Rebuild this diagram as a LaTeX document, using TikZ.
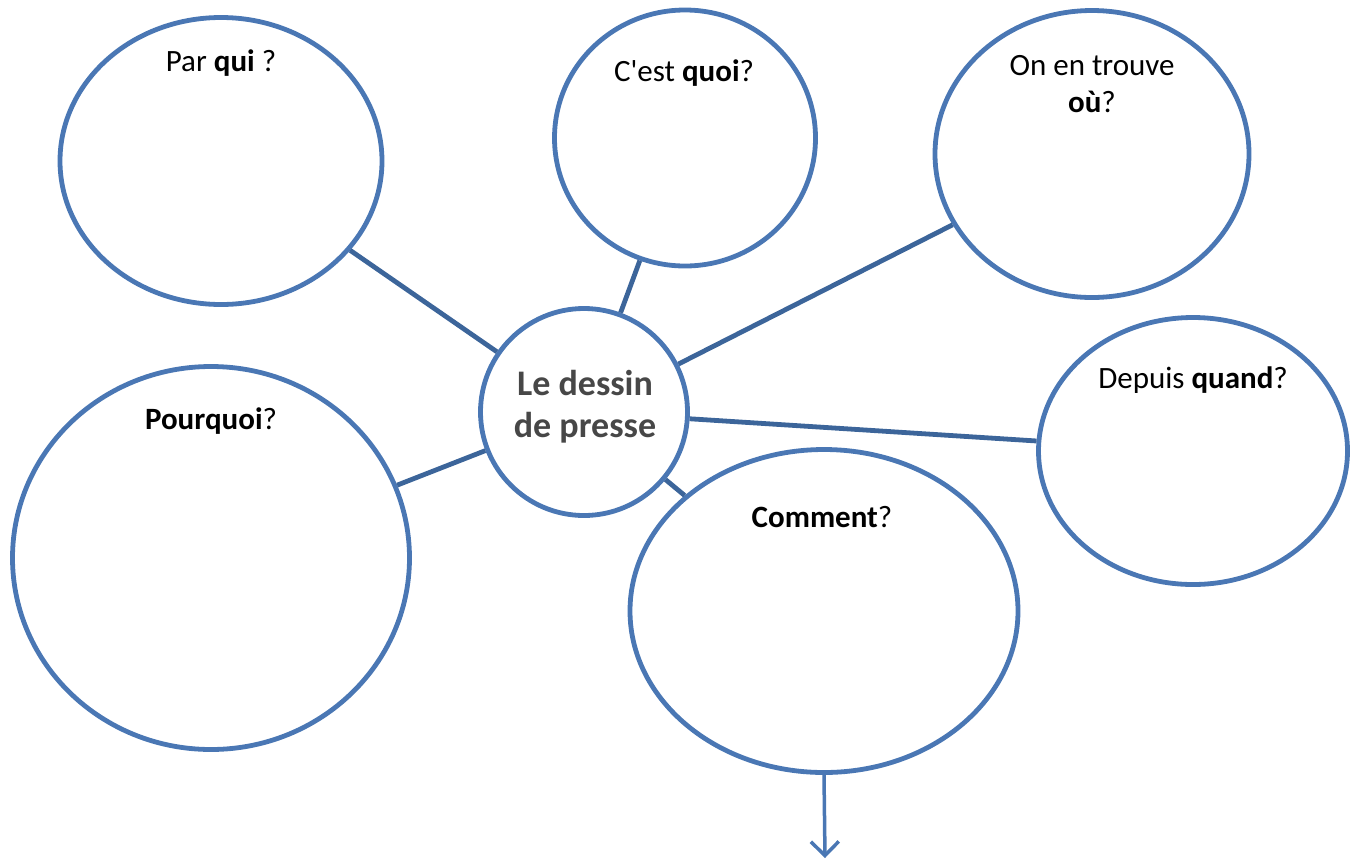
\documentclass[tikz,border=0pt]{standalone}
\usepackage{fontspec}
\setmainfont{Carlito}[Ligatures=TeXOff]
\usetikzlibrary{shapes.geometric,arrows.meta}
\definecolor{bubbleblue}{HTML}{4A77B4}
\definecolor{linkblue}{HTML}{3C659A}
\definecolor{chalkgray}{HTML}{474747}

\begin{document}
\begin{tikzpicture}[x = 1pt, y = -1pt,
        bubble/.style = {draw = bubbleblue, line width = 4.8pt, ellipse, inner sep = 0pt},
        link/.style = {draw = linkblue, line width = 4.8pt},
        question/.style = {font = \fontsize{31}{37}\selectfont, align = center}]
        \useasboundingbox (0,0) rectangle (1357,863);

        % Bubbles
        \node [bubble, minimum width = 322pt, minimum height = 287pt] (qui) at (221,161) {};
        \node [bubble, minimum width = 261pt, minimum height = 256pt] (quoi) at (685,138) {};
        \node [bubble, minimum width = 314pt, minimum height = 287pt] (ou) at (1092,154) {};
        \node [bubble, minimum width = 309pt, minimum height = 267pt] (quand) at (1193,451) {};
        \node [bubble, minimum width = 388pt, minimum height = 323pt] (comment) at (824,611) {};
        \node [bubble, minimum width = 397pt, minimum height = 383pt] (pourquoi) at (211,558) {};
        \node [bubble, circle, minimum size = 207pt] (centre) at (584,412) {};

        % Questions
        \node [question] (tqui) at (221,63) {Par \textbf{qui} ?};
        \node [question] (tquoi) at (684,73) {C'est \textbf{quoi}?};
        \node [question] (tou) at (1092,84) {On en trouve\\\textbf{où}?};
        \node [question] (tquand) at (1193,380) {Depuis \textbf{quand}?};
        \node [question] (tpourquoi) at (211,421) {\textbf{Pourquoi}?};
        \node [question] (tcomment) at (822,517) {\textbf{Comment}?};
        \node [align = center, text = chalkgray, font = \fontsize{36}{42}\selectfont\bfseries] (titre) at (585,407) {Le dessin\\de presse};

        % Lines
        \draw [link] (centre) -- (qui);
        \draw [link] (centre) -- (quoi);
        \draw [link] (centre) -- (ou);
        \draw [link] (centre) -- (quand);
        \draw [link] (centre) -- (comment);
        \draw [link] (centre) -- (pourquoi);

        % Arrow
        \coordinate (bas) at (825,858);
        \draw [bubbleblue, line width = 3.5pt, -{Straight Barb[length = 14pt, width = 28pt, line width = 3.5pt]}] (comment.south) -- (bas);
    \end{tikzpicture}
\end{document}
